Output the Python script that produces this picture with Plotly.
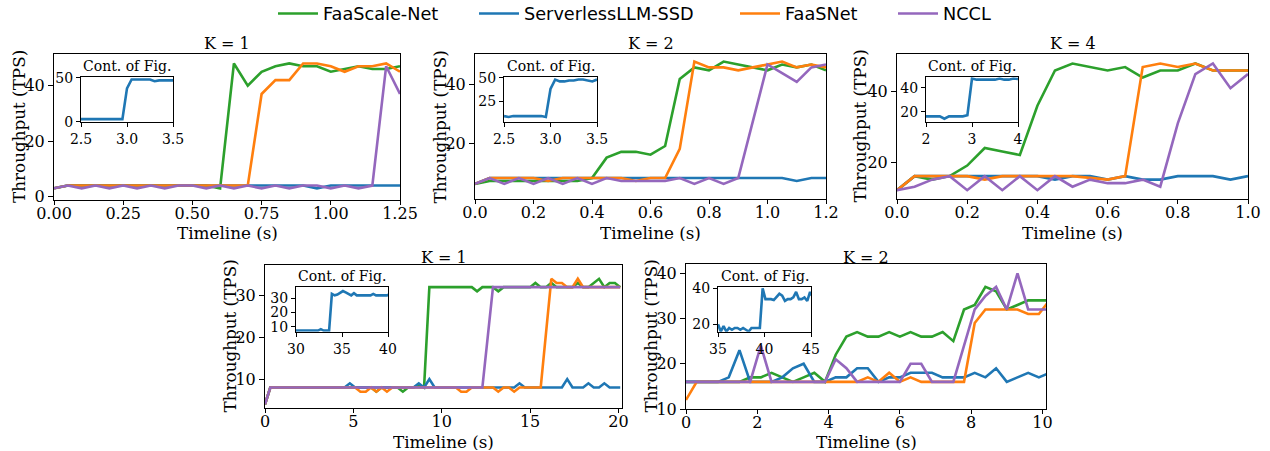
import plotly.graph_objects as go

W, H = 1270, 451

NAMES = ["FaaScale-Net", "ServerlessLLM-SSD", "FaaSNet", "NCCL"]
COLORS = ["#2ca02c", "#1f77b4", "#ff7f0e", "#9467bd"]
LEGEND_TEXT_X = [324, 525, 786, 944]  # pixel x where each legend label starts

# ---------- Top row, K = 1 ----------
t_a = [0.0, 0.05, 0.1, 0.15, 0.2, 0.25, 0.3, 0.35, 0.4, 0.45, 0.5, 0.55, 0.6, 0.65, 0.7,
       0.75, 0.8, 0.85, 0.9, 0.95, 1.0, 1.05, 1.1, 1.15, 1.2, 1.25]
a_green = [3, 4, 4, 4, 4, 4, 4, 4, 4, 4, 4, 4, 3, 48, 40, 45, 47, 48, 47, 47, 45, 46, 47, 46, 46, 47]
a_blue = [3, 4, 4, 4, 4, 4, 4, 4, 4, 4, 4, 4, 4, 4, 4, 4, 4, 4, 4, 3, 4, 4, 4, 4, 4, 4]
a_orange = [3, 4, 4, 4, 4, 4, 4, 4, 4, 4, 4, 4, 4, 4, 4, 37, 42, 42, 48, 48, 47, 45, 47, 47, 48, 45]
a_purple = [3, 4, 3, 4, 3, 4, 3, 4, 3, 4, 4, 3, 4, 3, 4, 3, 4, 3, 4, 4, 3, 4, 3, 4, 47, 37]
ia_t = [2.5, 2.55, 2.6, 2.65, 2.7, 2.75, 2.8, 2.85, 2.9, 2.95, 3.0, 3.05, 3.1, 3.15, 3.2,
        3.25, 3.3, 3.35, 3.4, 3.45, 3.5]
ia_blue = [3, 3, 3, 3, 3, 3, 3, 3, 3, 3, 38, 48, 48, 48, 48, 48, 46, 47, 47, 47, 47]

# ---------- Top row, K = 2 ----------
t_b = [0.0, 0.05, 0.1, 0.15, 0.2, 0.25, 0.3, 0.35, 0.4, 0.45, 0.5, 0.55, 0.6, 0.65, 0.7,
       0.75, 0.8, 0.85, 0.9, 0.95, 1.0, 1.05, 1.1, 1.15, 1.2]
b_green = [6, 7, 7, 7, 7, 7, 7, 7, 8, 15, 17, 17, 16, 19, 42, 46, 45, 48, 47, 46, 45, 47, 46, 47, 45]
b_blue = [6, 8, 8, 8, 8, 8, 8, 8, 8, 8, 8, 8, 8, 8, 8, 8, 8, 8, 8, 8, 8, 8, 7, 8, 8]
b_orange = [6, 8, 8, 8, 8, 7, 8, 8, 8, 8, 8, 7, 8, 8, 18, 48, 46, 46, 45, 46, 47, 48, 46, 47, 46]
b_purple = [6, 8, 6, 8, 6, 8, 6, 8, 6, 8, 7, 7, 7, 7, 8, 6, 8, 6, 8, 28, 47, 44, 41, 46, 47]
ib_t = [2.5, 2.55, 2.6, 2.65, 2.7, 2.75, 2.8, 2.85, 2.9, 2.95, 3.0, 3.05, 3.1, 3.15, 3.2,
        3.25, 3.3, 3.35, 3.4, 3.45, 3.5]
ib_blue = [9, 8, 9, 9, 9, 9, 9, 9, 9, 8, 38, 48, 46, 46, 47, 47, 48, 48, 47, 46, 48]

# ---------- Top row, K = 4 ----------
t_c = [0.0, 0.05, 0.1, 0.15, 0.2, 0.25, 0.3, 0.35, 0.4, 0.45, 0.5, 0.55, 0.6, 0.65, 0.7,
       0.75, 0.8, 0.85, 0.9, 0.95, 1.0]
c_green = [12, 16, 15, 16, 19, 24, 23, 22, 36, 46, 48, 47, 46, 47, 44, 46, 46, 48, 46, 46, 46]
c_blue = [12, 16, 16, 16, 16, 16, 16, 16, 16, 15, 16, 16, 15, 16, 15, 15, 16, 16, 16, 15, 16]
c_orange = [12, 16, 16, 16, 16, 15, 16, 16, 16, 16, 16, 15.5, 15, 16, 47, 48, 47, 48, 46, 46, 46]
c_purple = [12, 13, 15, 16, 12, 16, 12, 16, 12, 16, 13, 15, 14, 14, 15, 13, 31, 45, 48, 41, 45]
ic_t = [2.0, 2.1, 2.2, 2.3, 2.4, 2.5, 2.6, 2.7, 2.8, 2.9, 3.0, 3.1, 3.2, 3.3, 3.4, 3.5,
        3.6, 3.7, 3.8, 3.9, 4.0]
ic_blue = [16, 16, 16, 16, 14, 16, 16, 16, 16, 17, 48, 47, 47, 47, 47, 47, 48, 47, 47, 48, 47.5]

# ---------- Bottom row, K = 1 ----------
t_d = [round(0.3 * i, 1) for i in range(68)]
d_green = [4, 8, 8, 8, 8, 8, 8, 8, 8, 8, 8, 8, 8, 8, 8, 8, 8, 8, 8, 8,
           8, 7, 8, 8, 8, 8, 7, 8, 8, 8.5, 8, 32, 32, 32, 32, 32, 32, 32, 32, 32,
           31, 32, 32, 32, 31, 32, 32, 32, 32, 32, 32, 33, 32, 32, 33, 32, 32, 32, 32, 33,
           32, 32, 33, 34, 32, 33, 33, 32]
d_blue = [4, 8, 8, 8, 8, 8, 8, 8, 8, 8, 8, 8, 8, 8, 8, 8, 9, 8, 8, 8,
          8, 8, 8, 8, 8, 8, 8, 8, 8, 9, 8, 10, 8, 8, 8, 8, 8, 8, 8, 8,
          8, 8, 8, 8, 8, 8, 8, 8, 9, 8, 8, 8, 8, 8, 8, 8, 8, 10, 8, 8,
          8, 9, 8, 8, 9, 8, 8, 8]
d_orange = [4, 8, 8, 8, 8, 8, 8, 8, 8, 8, 8, 8, 8, 8, 8, 8, 8, 8, 7, 7,
            8, 7, 8, 7, 8, 8, 8, 8, 8, 8, 8, 8, 8, 8, 8, 8, 8, 7, 7, 8,
            8, 8, 8, 8, 7, 8, 8, 7, 8, 8, 8, 8, 8, 21, 34, 33, 33, 32, 32, 34,
            32, 32, 32, 32, 32, 32, 32, 32]
d_purple = [4, 8, 8, 8, 8, 8, 8, 8, 8, 8, 8, 8, 8, 8, 8, 8, 8, 8, 8, 8,
            8, 8, 8, 8, 8, 8, 8, 8, 8, 8, 8, 8, 8, 8, 8, 8, 8, 8, 8, 8,
            8, 8, 20, 32, 32, 32, 32, 32, 32, 32, 32, 32, 32, 32, 32, 32, 32, 32, 32, 32,
            32, 32, 32, 32, 32, 32, 32, 32]
id_t = [round(30 + 0.3 * i, 1) for i in range(35)]
id_blue = [7.5, 7.5, 7.5, 7.5, 7.5, 7.5, 7.5, 7.5, 7.5, 8.5, 7.5, 7.5, 7.5, 33, 32, 32.5, 34, 35,
           34, 33, 32, 33.5, 32, 32, 32, 32, 32, 32, 33, 32, 32, 32, 32, 32, 33]

# ---------- Bottom row, K = 2 ----------
t_e = [round(0.3 * i, 1) for i in range(35)]
e_green = [16, 16, 16, 16, 16, 16, 17, 17, 18, 17, 16, 17, 18, 16, 22, 26, 27, 26, 26, 27,
           26, 27, 26, 26, 27, 25, 32, 33, 37, 36, 32, 33, 34, 34, 34]
e_blue = [16, 16, 16, 16, 17, 23, 16, 16, 16, 17, 19, 20, 16, 16, 17, 17, 19, 19, 16, 17,
          17, 18, 18, 18, 17, 17, 17, 18, 17, 19, 16, 17, 18, 17, 18]
e_orange = [12, 16, 16, 16, 16, 16, 16, 16, 16, 16, 16, 16, 16, 16, 16, 16, 16, 17, 16, 18,
            16, 17, 16, 16, 16, 16, 16, 29, 32, 32, 32, 32, 31, 31, 34]
e_purple = [16, 16, 16, 16, 16, 16, 16, 24, 16, 16, 16, 16, 16, 16, 21, 19, 16, 16, 16, 16,
            16, 20, 20, 16, 16, 16, 24, 32, 35, 37, 32, 40, 32, 32, 32]
ie_t = [round(35 + 0.3 * i, 1) for i in range(35)]
ie_blue = [20, 16, 19, 16, 18, 17, 18, 18, 17, 18, 17, 16, 18, 18, 18, 18, 40, 34, 34, 34,
           33.5, 35, 37, 36, 33, 34, 34, 35, 38, 34, 34, 35, 33, 38, 35]

SERIF = "DejaVu Serif"
SANS = "DejaVu Sans"
TICK = 16
LAB = 16.8
TTL = 16
ITICK = 14


def px_x(p):
    return p / W


def px_y(p):
    return 1 - p / H


panels = [
    dict(title="K = 1", t=t_a, ys=[a_green, a_blue, a_orange, a_purple],
         box=(54, 400, 54, 200), xr=[0, 1.25], yr=[-1.2, 51.4],
         xt=[0, 0.25, 0.5, 0.75, 1.0, 1.25], xfmt=".2f", yt=[0, 20, 40],
         ylab_x=19, xlab_y=232, title_y=43,
         it=ia_t, iy=ia_blue, ibox=(81, 173, 77.3, 122.3),
         ixr=[2.5, 3.5], iyr=[-0.6, 50.5], ixt=[2.5, 3.0, 3.5], ixfmt=".1f", iyt=[0, 50]),
    dict(title="K = 2", t=t_b, ys=[b_green, b_blue, b_orange, b_purple],
         box=(475, 826, 54, 199), xr=[0, 1.2], yr=[0.8, 50.6],
         xt=[0, 0.2, 0.4, 0.6, 0.8, 1.0, 1.2], xfmt=".1f", yt=[20, 40],
         ylab_x=439, xlab_y=232, title_y=43,
         it=ib_t, iy=ib_blue, ibox=(504, 597, 77.3, 121.7),
         ixr=[2.5, 3.5], iyr=[3, 50.4], ixt=[2.5, 3.0, 3.5], ixfmt=".1f", iyt=[25, 50]),
    dict(title="K = 4", t=t_c, ys=[c_green, c_blue, c_orange, c_purple],
         box=(897, 1248, 54, 199), xr=[0, 1.0], yr=[9.5, 50.7],
         xt=[0, 0.2, 0.4, 0.6, 0.8, 1.0], xfmt=".1f", yt=[20, 40],
         ylab_x=859, xlab_y=232, title_y=43,
         it=ic_t, iy=ic_blue, ibox=(926, 1018, 77.3, 121.7),
         ixr=[2, 4], iyr=[11.5, 49], ixt=[2, 3, 4], ixfmt="d", iyt=[20, 40]),
    dict(title="K = 1", t=t_d, ys=[d_green, d_blue, d_orange, d_purple],
         box=(265, 622, 265, 408), xr=[0, 20.2], yr=[3.1, 37.3],
         xt=[0, 5, 10, 15, 20], xfmt="d", yt=[10, 20, 30],
         ylab_x=229, xlab_y=441, title_y=257,
         it=id_t, iy=id_blue, ibox=(296, 388, 287.3, 331.7),
         ixr=[30, 40], iyr=[6.7, 37.6], ixt=[30, 35, 40], ixfmt="d", iyt=[10, 20, 30]),
    dict(title="K = 2", t=t_e, ys=[e_green, e_blue, e_orange, e_purple],
         box=(686, 1046, 264, 409), xr=[0, 10.1], yr=[10, 42.05],
         xt=[0, 2, 4, 6, 8, 10], xfmt="d", yt=[10, 20, 30, 40],
         ylab_x=650, xlab_y=441, title_y=257,
         it=ie_t, iy=ie_blue, ibox=(718, 811, 287.3, 331.7),
         ixr=[35, 45], iyr=[15.9, 40.6], ixt=[35, 40, 45], ixfmt="d", iyt=[20, 40]),
]


def fmt(v, f):
    return str(int(v)) if f == "d" else format(v, f)


fig = go.Figure()
layout = dict(width=W, height=H, margin=dict(l=0, r=0, t=0, b=0, pad=0, autoexpand=False),
              paper_bgcolor="white", plot_bgcolor="white", showlegend=True)
annotations = []


def axis_common(size, tl):
    return dict(showline=True, mirror=True, linecolor="black", linewidth=1,
                ticks="outside", ticklen=tl, tickwidth=1, tickcolor="black",
                showgrid=False, zeroline=False, automargin=False,
                tickfont=dict(family=SERIF, size=size, color="black"))


LEG_KEYS = ["legend", "legend2", "legend3", "legend4"]

ax_n = 0
for pi, p in enumerate(panels):
    ax_n += 1
    xa, ya = f"x{ax_n}", f"y{ax_n}"
    x0, x1, y0, y1 = p["box"]
    layout[f"xaxis{ax_n}"] = dict(domain=[px_x(x0), px_x(x1)], range=p["xr"], anchor=ya,
                                  tickvals=p["xt"], ticktext=[fmt(v, p["xfmt"]) for v in p["xt"]],
                                  ticklabelstandoff=-5,
                                  **axis_common(TICK, 4))
    layout[f"yaxis{ax_n}"] = dict(domain=[px_y(y1), px_y(y0)], range=p["yr"], anchor=xa,
                                  tickvals=p["yt"], ticktext=[str(v) for v in p["yt"]],
                                  **axis_common(TICK, 5))
    for k in range(4):
        fig.add_trace(go.Scatter(x=p["t"], y=p["ys"][k], mode="lines", name=NAMES[k],
                                 line=dict(color=COLORS[k], width=2.6),
                                 xaxis=xa, yaxis=ya, showlegend=(pi == 0),
                                 legend=LEG_KEYS[k]))
    annotations.append(dict(text=p["title"], x=px_x((x0 + x1) / 2), y=px_y(p["title_y"]),
                            xref="paper", yref="paper", showarrow=False,
                            xanchor="center", yanchor="middle",
                            font=dict(family=SERIF, size=TTL, color="black")))
    annotations.append(dict(text="Timeline (s)", x=px_x((x0 + x1) / 2), y=px_y(p["xlab_y"]),
                            xref="paper", yref="paper", showarrow=False,
                            xanchor="center", yanchor="middle", height=17,
                            font=dict(family=SERIF, size=LAB, color="black")))
    annotations.append(dict(text="Throughput (TPS)", x=px_x(p["ylab_x"]), y=px_y((y0 + y1) / 2),
                            xref="paper", yref="paper", showarrow=False, textangle=-90,
                            xanchor="center", yanchor="middle",
                            font=dict(family=SERIF, size=LAB, color="black")))

    ax_n += 1
    xa, ya = f"x{ax_n}", f"y{ax_n}"
    ix0, ix1, iy0, iy1 = p["ibox"]
    layout[f"xaxis{ax_n}"] = dict(domain=[px_x(ix0), px_x(ix1)], range=p["ixr"], anchor=ya,
                                  tickvals=p["ixt"], ticktext=[fmt(v, p["ixfmt"]) for v in p["ixt"]],
                                  **axis_common(ITICK, 4))
    layout[f"yaxis{ax_n}"] = dict(domain=[px_y(iy1), px_y(iy0)], range=p["iyr"], anchor=xa,
                                  tickvals=p["iyt"], ticktext=[str(v) for v in p["iyt"]],
                                  **axis_common(ITICK, 4))
    fig.add_trace(go.Scatter(x=p["it"], y=p["iy"], mode="lines", name=NAMES[1],
                             line=dict(color=COLORS[1], width=2.6),
                             xaxis=xa, yaxis=ya, showlegend=False))
    annotations.append(dict(text="Cont. of Fig.", x=px_x((ix0 + ix1) / 2), y=px_y(iy0 - 11.5),
                            xref="paper", yref="paper", showarrow=False,
                            xanchor="center", yanchor="middle",
                            font=dict(family=SERIF, size=ITICK, color="black")))

layout["annotations"] = annotations
for k, key in enumerate(LEG_KEYS):
    layout[key] = dict(orientation="h", x=px_x(LEGEND_TEXT_X[k] - 51), y=px_y(14),
                       xanchor="left", yanchor="middle",
                       font=dict(family=SANS, size=17.7, color="black"),
                       bgcolor="rgba(0,0,0,0)", itemwidth=40)
fig.update_layout(**layout)
# remove the default 8px page margin so the figure fills the window exactly
fig.write_html("out.html", config={"displayModeBar": False},
               post_script="document.body.style.margin='0px';document.body.style.overflow='hidden';")
